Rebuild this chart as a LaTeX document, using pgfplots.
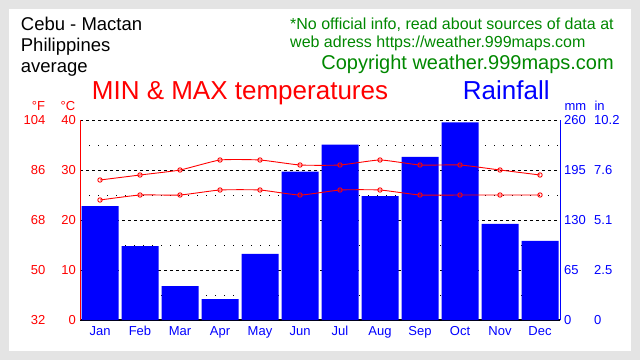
\documentclass[border=0pt]{standalone}
\usepackage{pgfplots}
\pgfplotsset{compat=1.18}
\usepackage{fontspec}
\setmainfont{Liberation Sans}
\definecolor{bggray}{RGB}{228,228,228}
\definecolor{txtgreen}{RGB}{0,136,0}
\newcommand{\fs}[1]{\fontsize{#1bp}{#1bp}\selectfont}
\begin{document}
\begin{tikzpicture}[x=1bp,y=1bp]
\fill[bggray] (0,0) rectangle (640,360);
\fill[white] (9,9) rectangle (631,351);
\useasboundingbox (0,0) rectangle (640,360);
% header texts
\node[anchor=base west, inner sep=0pt, font=\fs{18.5}] at (20.7,329.3) {Cebu - Mactan};
\node[anchor=base west, inner sep=0pt, font=\fs{18.5}] at (20.7,308.3) {Philippines};
\node[anchor=base west, inner sep=0pt, font=\fs{18.5}] at (20.7,287.3) {average};
\node[anchor=base west, inner sep=0pt, font=\fs{16}, text=txtgreen] at (290,331) {*No official info, read about sources of data at};
\node[anchor=base west, inner sep=0pt, font=\fs{16}, text=txtgreen] at (290,312.7) {web adress https://weather.999maps.com};
\node[anchor=base east, inner sep=0pt, font=\fs{20}, text=txtgreen] at (614,290.5) {Copyright weather.999maps.com};
\node[anchor=base west, inner sep=0pt, font=\fs{26}, text=red] at (91.7,260.7) {MIN \& MAX temperatures};
\node[anchor=base west, inner sep=0pt, font=\fs{26}, text=blue] at (462.7,260.7) {Rainfall};
\node[anchor=base east, inner sep=0pt, font=\fs{13}, text=red] at (45.3,250) {°F};
\node[anchor=base east, inner sep=0pt, font=\fs{13}, text=red] at (75.5,250) {°C};
\node[anchor=base west, inner sep=0pt, font=\fs{13}, text=blue] at (564.3,250) {mm};
\node[anchor=base west, inner sep=0pt, font=\fs{13}, text=blue] at (594.3,250) {in};
% rainfall axis
\begin{axis}[at={(80bp,40bp)}, anchor=south west, scale only axis,
  width=480bp, height=200bp,
  xmin=0.5, xmax=12.5, ymin=0, ymax=260,
  axis x line*=bottom, axis y line*=right,
  x axis line style={-, black, line width=1.3bp},
  y axis line style={-, blue, line width=0.9bp},
  xtick={1,...,12},
  xticklabels={Jan,Feb,Mar,Apr,May,Jun,Jul,Aug,Sep,Oct,Nov,Dec},
  xticklabel style={anchor=north, inner sep=0pt, text height=9.5bp, text depth=2.5bp,
    yshift=-6bp, text=blue, font=\fs{13}},
  ytick={0,65,130,195,260},
  yticklabels={{\makebox[30bp][l]{0}\makebox[0pt][l]{0}},
               {\makebox[30bp][l]{65}\makebox[0pt][l]{2.5}},
               {\makebox[30bp][l]{130}\makebox[0pt][l]{5.1}},
               {\makebox[30bp][l]{195}\makebox[0pt][l]{7.6}},
               {\makebox[30bp][l]{260}\makebox[0pt][l]{10.2}}},
  yticklabel style={anchor=west, inner sep=0pt, xshift=4bp, text=blue, font=\fs{13}},
  minor ytick={32.5,97.5,162.5,227.5},
  ymajorgrids, yminorgrids,
  major grid style={black, line width=0.7bp, dash pattern=on 3bp off 3bp},
  minor grid style={black, line width=0.9bp, dash pattern=on 1bp off 8bp},
  major tick length=0pt, minor tick length=0pt,
  ybar, bar width=37bp,
]
\addplot[fill=blue, draw=none] coordinates {
  (1,148) (2,96) (3,44) (4,27) (5,86) (6,193)
  (7,228) (8,161) (9,212) (10,257) (11,125) (12,103)};
\end{axis}
% temperature axis
\begin{axis}[at={(80bp,40bp)}, anchor=south west, scale only axis,
  width=480bp, height=200bp,
  xmin=0.5, xmax=12.5, ymin=0, ymax=40,
  axis x line=none, axis y line*=left,
  y axis line style={-, red, line width=0.9bp},
  xtick=\empty,
  ytick={0,10,20,30,40},
  yticklabels={{\makebox[0pt][r]{32}\makebox[30.5bp][r]{0}},
               {\makebox[0pt][r]{50}\makebox[30.5bp][r]{10}},
               {\makebox[0pt][r]{68}\makebox[30.5bp][r]{20}},
               {\makebox[0pt][r]{86}\makebox[30.5bp][r]{30}},
               {\makebox[0pt][r]{104}\makebox[30.5bp][r]{40}}},
  yticklabel style={anchor=east, inner sep=0pt, xshift=-4bp, text=red, font=\fs{13}},
  major tick length=0pt,
]
\addplot[red, line width=0.9bp, smooth, tension=0.3, mark=o, mark size=2.2bp,
  mark options={line width=0.9bp}] coordinates {
  (1,28) (2,29) (3,30) (4,32) (5,32) (6,31)
  (7,31) (8,32) (9,31) (10,31) (11,30) (12,29)};
\addplot[red, line width=0.9bp, smooth, tension=0.3, mark=o, mark size=2.2bp,
  mark options={line width=0.9bp}] coordinates {
  (1,24) (2,25) (3,25) (4,26) (5,26) (6,25)
  (7,26) (8,26) (9,25) (10,25) (11,25) (12,25)};
\end{axis}
\end{tikzpicture}
\end{document}
